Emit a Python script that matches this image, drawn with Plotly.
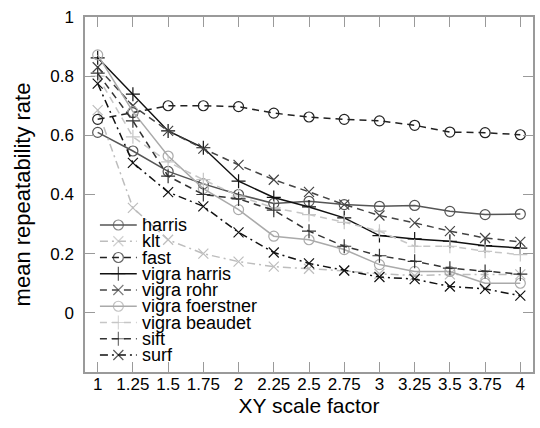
import plotly.graph_objects as go

# XY scale factors and their tick labels
scale = [1, 1.25, 1.5, 1.75, 2, 2.25, 2.5, 2.75, 3, 3.25, 3.5, 3.75, 4]
scale_labels = ["1", "1.25", "1.5", "1.75", "2", "2.25", "2.5", "2.75",
                "3", "3.25", "3.5", "3.75", "4"]
rate_ticks = [0, 0.2, 0.4, 0.6, 0.8, 1]
rate_labels = ["0", "0.2", "0.4", "0.6", "0.8", "1"]

# mean repeatability rate of each detector
harris = [0.61, 0.547, 0.478, 0.436, 0.40, 0.37, 0.377, 0.366, 0.36, 0.363, 0.343, 0.332, 0.334]
klt = [0.685, 0.355, 0.247, 0.20, 0.173, 0.156, 0.149, 0.142, 0.132, 0.126, 0.13, 0.13, 0.13]
fast = [0.654, 0.677, 0.70, 0.70, 0.697, 0.675, 0.662, 0.654, 0.649, 0.634, 0.611, 0.609, 0.602]
vigra_harris = [0.862, 0.739, 0.615, 0.558, 0.445, 0.39, 0.358, 0.321, 0.261, 0.25, 0.242, 0.227, 0.219]
vigra_rohr = [0.83, 0.70, 0.615, 0.555, 0.50, 0.45, 0.409, 0.366, 0.329, 0.304, 0.276, 0.253, 0.24]
vigra_foerstner = [0.872, 0.68, 0.53, 0.42, 0.349, 0.259, 0.247, 0.214, 0.163, 0.14, 0.14, 0.10, 0.10]
vigra_beaudet = [0.80, 0.595, 0.51, 0.45, 0.395, 0.355, 0.332, 0.306, 0.276, 0.225, 0.225, 0.208, 0.197]
sift = [0.81, 0.649, 0.462, 0.40, 0.385, 0.347, 0.276, 0.225, 0.193, 0.174, 0.151, 0.14, 0.131]
surf = [0.775, 0.507, 0.408, 0.36, 0.272, 0.204, 0.167, 0.143, 0.121, 0.114, 0.089, 0.081, 0.058]

names = ["harris", "klt", "fast", "vigra harris", "vigra rohr",
         "vigra foerstner", "vigra beaudet", "sift", "surf"]
series = [harris, klt, fast, vigra_harris, vigra_rohr,
          vigra_foerstner, vigra_beaudet, sift, surf]

DASH = "7px,5px"
DASHDOT = "8px,4px,2px,4px"
styles = {
    "harris":          dict(color="#555555", dash="solid", symbol="circle-open"),
    "klt":             dict(color="#bdbdbd", dash=DASHDOT, symbol="x-thin-open"),
    "fast":            dict(color="#222222", dash=DASH,    symbol="circle-open"),
    "vigra harris":    dict(color="#111111", dash="solid", symbol="cross-thin-open"),
    "vigra rohr":      dict(color="#444444", dash=DASH,    symbol="x-thin-open"),
    "vigra foerstner": dict(color="#aaaaaa", dash="solid", symbol="circle-open"),
    "vigra beaudet":   dict(color="#c6c6c6", dash=DASH,    symbol="cross-thin-open"),
    "sift":            dict(color="#333333", dash=DASH,    symbol="cross-thin-open"),
    "surf":            dict(color="#111111", dash=DASHDOT, symbol="x-thin-open"),
}

FONT = "Liberation Sans, Arial, sans-serif"
fig = go.Figure()

for name, vals in zip(names, series):
    st = styles[name]
    fig.add_trace(go.Scatter(
        x=scale, y=vals, name=name, mode="lines+markers",
        line=dict(color=st["color"], width=1.5, dash=st["dash"]),
        marker=dict(symbol=st["symbol"], size=10,
                    line=dict(color=st["color"], width=1.2)),
        showlegend=False, xaxis="x", yaxis="y",
    ))

# hand-drawn legend on an overlay axis measured in pixels of the plot area
row0, row_gap = 208, 16.25
for i, name in enumerate(names):
    st = styles[name]
    yrow = row0 + i * row_gap
    fig.add_trace(go.Scatter(
        x=[15, 33.5, 52], y=[yrow] * 3, mode="lines+markers",
        line=dict(color=st["color"], width=1.5, dash=st["dash"]),
        marker=dict(symbol=st["symbol"], size=[0, 10, 0],
                    line=dict(color=st["color"], width=1.2)),
        showlegend=False, hoverinfo="skip", xaxis="x2", yaxis="y2",
    ))
    fig.add_annotation(
        x=55, y=yrow, xref="x2", yref="y2", text=name, showarrow=False,
        xanchor="left", yanchor="middle",
        font=dict(family=FONT, size=18, color="#000000"),
    )

axis_common = dict(
    ticks="inside", ticklen=10, tickwidth=1, tickcolor="#9a9a9a",
    showline=True, linecolor="#9a9a9a", linewidth=1.5, mirror="ticks",
    showgrid=False, zeroline=False,
    tickfont=dict(family=FONT, size=17, color="#000000"),
)

fig.update_layout(
    width=540, height=428,
    margin=dict(l=85, r=5, t=17, b=56),
    paper_bgcolor="white", plot_bgcolor="white",
    font=dict(family=FONT, color="#000000"),
    xaxis=dict(range=[0.91, 4.09], tickvals=scale, ticktext=scale_labels,
               ticklabelstandoff=-4,
               title=dict(text="XY scale factor", standoff=0,
                          font=dict(family=FONT, size=21)),
               **axis_common),
    yaxis=dict(range=[-0.2, 1], tickvals=rate_ticks, ticktext=rate_labels,
               ticklabelstandoff=6,
               title=dict(text="mean repeatability rate", standoff=14,
                          font=dict(family=FONT, size=22)),
               **axis_common),
    xaxis2=dict(overlaying="x", range=[0, 450], visible=False, fixedrange=True),
    yaxis2=dict(overlaying="y", range=[355, 0], visible=False, fixedrange=True),
)

fig.write_html("out.html")
